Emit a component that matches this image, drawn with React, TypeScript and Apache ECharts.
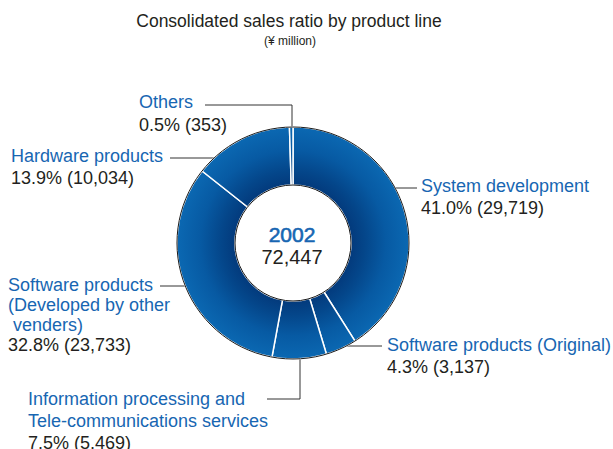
import React, { useEffect, useRef } from "react";
import * as echarts from "echarts";

const categories = [
  "System development",
  "Software products (Original)",
  "Information processing and Tele-communications services",
  "Software products (Developed by other venders)",
  "Hardware products",
  "Others",
];
const values = [29719, 3137, 5469, 23733, 10034, 353];
const percents = ["41.0", "4.3", "7.5", "32.8", "13.9", "0.5"];
const labelNameLines = [
  ["System development"],
  ["Software products (Original)"],
  ["Information processing and", "Tele-communications services"],
  ["Software products", "(Developed by other", "\u00a0venders)"],
  ["Hardware products"],
  ["Others"],
];
const centerYear = "2002";
const centerTotal = "72,447";
const titleText = "Consolidated sales ratio by product line";
const subtitleText = "(\u00a5 million)";

// layout (pixels)
const CX = 293;
const CY = 243;
const R_IN = 58;
const R_OUT = 116;
const labelX = [421, 387, 28, 8, 11, 139];
const labelTop = [175, 334, 388, 275, 145, 90];
const labelLH = [22, 22, 22, 20, 22, 23];
const leaderPts = [
  [[382, 188], [400, 188], [417, 188]],
  [[340, 346], [360, 346], [382, 346]],
  [[300, 348], [300, 399], [267, 399]],
  [[202, 286], [180, 286], [160, 286]],
  [[227, 158], [200, 158], [170, 158]],
  [[292, 133], [292, 105], [205, 105]],
];

const BLUE = "#1766b2";
const DARK = "#231f20";
const FONT = "'Liberation Sans', Arial, Helvetica, sans-serif";

export default function App() {
  const ref = useRef<HTMLDivElement>(null);
  useEffect(() => {
    if (!ref.current) return;
    const chart = echarts.init(ref.current, undefined, { renderer: "svg" });
    const ringColor = {
      type: "radial",
      x: CX,
      y: CY,
      r: R_OUT,
      global: true,
      colorStops: [
        { offset: 0, color: "#02356f" },
        { offset: 0.5, color: "#033a7c" },
        { offset: 0.62, color: "#04468a" },
        { offset: 0.8, color: "#075aa3" },
        { offset: 1, color: "#0b68b2" },
      ],
    };
    const data = categories.map((name, i) => {
      const lh = labelLH[i];
      const nameStr = labelNameLines[i].map((l) => `{n|${l}}`).join("\n");
      const valStr = `{v|${percents[i]}% (${values[i].toLocaleString("en-US")})}`;
      return {
        name,
        value: values[i],
        label: {
          formatter: nameStr + "\n" + valStr,
          rich: {
            n: { color: BLUE, fontSize: 18, lineHeight: lh, fontFamily: FONT },
            v: { color: DARK, fontSize: 18, lineHeight: lh, fontFamily: FONT },
          },
        },
      };
    });
    chart.setOption({
      animation: false,
      textStyle: { fontFamily: FONT },
      graphic: [
        {
          type: "text",
          x: 289,
          y: 21,
          style: {
            text: titleText,
            fontSize: 17.5,
            fontFamily: FONT,
            fill: DARK,
            textAlign: "center",
            textVerticalAlign: "middle",
          },
        },
        {
          type: "text",
          x: 290,
          y: 41,
          style: {
            text: subtitleText,
            fontSize: 12,
            fontFamily: FONT,
            fill: DARK,
            textAlign: "center",
            textVerticalAlign: "middle",
          },
        },
        {
          type: "text",
          x: CX - 1,
          y: 234.5,
          z: 100,
          style: {
            text: centerYear,
            fontSize: 21,
            fontFamily: FONT,
            fill: BLUE,
            stroke: BLUE,
            lineWidth: 0.6,
            textAlign: "center",
            textVerticalAlign: "middle",
          },
        },
        {
          type: "text",
          x: CX - 1,
          y: 256.5,
          z: 100,
          style: {
            text: centerTotal,
            fontSize: 20,
            fontFamily: FONT,
            fill: DARK,
            textAlign: "center",
            textVerticalAlign: "middle",
          },
        },
      ],
      series: [
        {
          type: "pie",
          center: [CX, CY],
          radius: [R_IN, R_OUT],
          startAngle: 90,
          clockwise: true,
          avoidLabelOverlap: false,
          silent: true,
          itemStyle: { color: ringColor, borderColor: "#ffffff", borderWidth: 1.5 },
          label: { show: true, position: "outside" },
          labelLine: { show: true, lineStyle: { color: "#333333", width: 1 } },
          labelLayout: (p: any) => {
            const i = p.dataIndex;
            return {
              x: labelX[i],
              y: labelTop[i],
              align: "left",
              verticalAlign: "top",
              labelLinePoints: leaderPts[i],
            };
          },
          data,
        },
        {
          type: "pie",
          center: [CX, CY],
          radius: [R_IN, R_OUT],
          silent: true,
          z: 3,
          label: { show: false },
          labelLine: { show: false },
          itemStyle: { color: "rgba(0,0,0,0)", borderColor: "#1a1a1a", borderWidth: 1 },
          data: [{ name: "ring", value: 1 }],
        },
      ],
    });
    return () => chart.dispose();
  }, []);
  return (
    <div
      ref={ref}
      style={{ position: "absolute", left: 0, top: 0, width: 613, height: 449 }}
    />
  );
}
